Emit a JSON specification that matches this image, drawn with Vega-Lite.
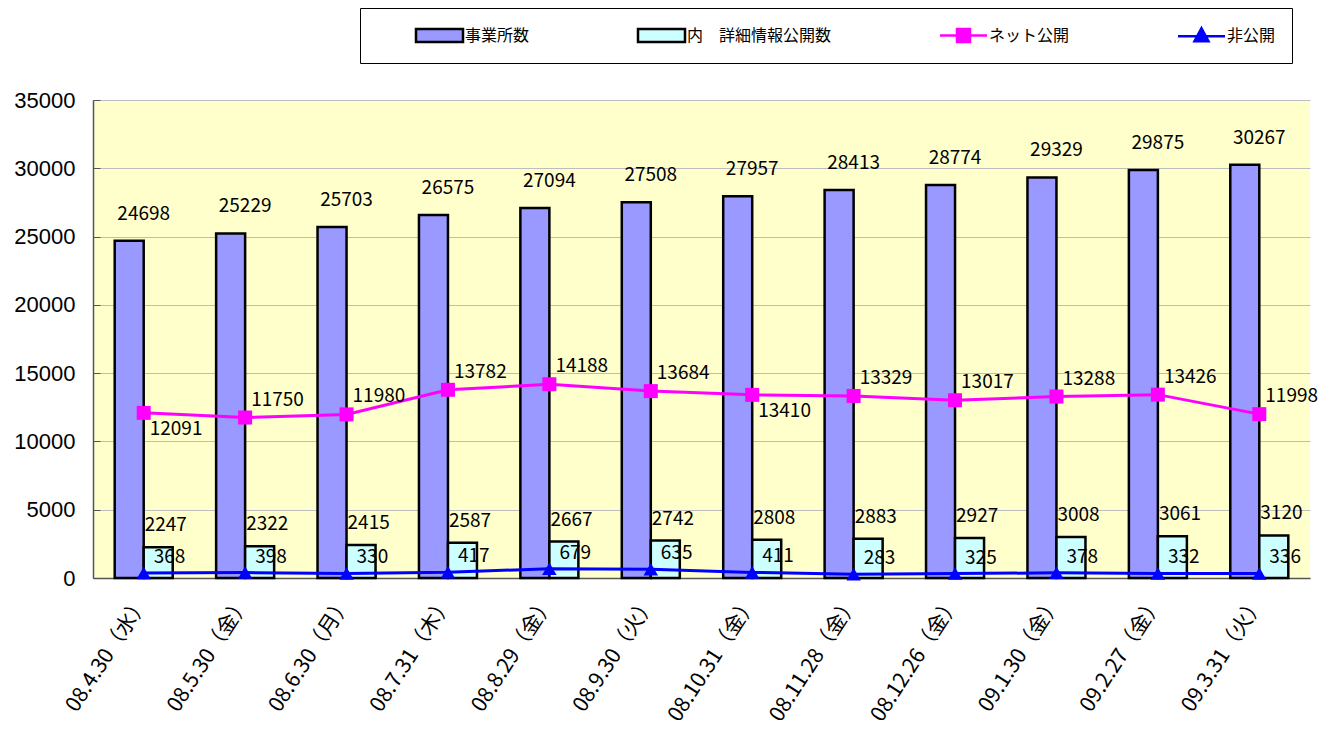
{
  "$schema": "https://vega.github.io/schema/vega-lite/v6.json",
  "width": 1217,
  "height": 478,
  "autosize": "none",
  "padding": {"left": 93, "top": 100, "right": 20, "bottom": 153},
  "background": "white",
  "config": {
    "view": {"stroke": null, "fill": "#FFFFCC"},
    "font": "Noto Sans CJK JP",
    "legend": {
      "title": null, "orient": "none", "legendX": 267, "legendY": -92,
      "direction": "horizontal", "columns": 4, "columnPadding": 68, "padding": 16,
      "strokeColor": "black", "fillColor": "white", "symbolSize": 400,
      "symbolStrokeWidth": 2.5, "symbolOffset": 52, "labelFontSize": 16, "labelOffset": 14,
      "labelFont": "Noto Sans CJK JP", "labelColor": "black"
    }
  },
  "data": {"values": [
    {"date": "08.4.30（水）", "series": "事業所数", "value": 24698},
    {"date": "08.5.30（金）", "series": "事業所数", "value": 25229},
    {"date": "08.6.30（月）", "series": "事業所数", "value": 25703},
    {"date": "08.7.31（木）", "series": "事業所数", "value": 26575},
    {"date": "08.8.29（金）", "series": "事業所数", "value": 27094},
    {"date": "08.9.30（火）", "series": "事業所数", "value": 27508},
    {"date": "08.10.31（金）", "series": "事業所数", "value": 27957},
    {"date": "08.11.28（金）", "series": "事業所数", "value": 28413},
    {"date": "08.12.26（金）", "series": "事業所数", "value": 28774},
    {"date": "09.1.30（金）", "series": "事業所数", "value": 29329},
    {"date": "09.2.27（金）", "series": "事業所数", "value": 29875},
    {"date": "09.3.31（火）", "series": "事業所数", "value": 30267},
    {"date": "08.4.30（水）", "series": "内　詳細情報公開数", "value": 2247},
    {"date": "08.5.30（金）", "series": "内　詳細情報公開数", "value": 2322},
    {"date": "08.6.30（月）", "series": "内　詳細情報公開数", "value": 2415},
    {"date": "08.7.31（木）", "series": "内　詳細情報公開数", "value": 2587},
    {"date": "08.8.29（金）", "series": "内　詳細情報公開数", "value": 2667},
    {"date": "08.9.30（火）", "series": "内　詳細情報公開数", "value": 2742},
    {"date": "08.10.31（金）", "series": "内　詳細情報公開数", "value": 2808},
    {"date": "08.11.28（金）", "series": "内　詳細情報公開数", "value": 2883},
    {"date": "08.12.26（金）", "series": "内　詳細情報公開数", "value": 2927},
    {"date": "09.1.30（金）", "series": "内　詳細情報公開数", "value": 3008},
    {"date": "09.2.27（金）", "series": "内　詳細情報公開数", "value": 3061},
    {"date": "09.3.31（火）", "series": "内　詳細情報公開数", "value": 3120},
    {"date": "08.4.30（水）", "series": "ネット公開", "value": 12091},
    {"date": "08.5.30（金）", "series": "ネット公開", "value": 11750},
    {"date": "08.6.30（月）", "series": "ネット公開", "value": 11980},
    {"date": "08.7.31（木）", "series": "ネット公開", "value": 13782},
    {"date": "08.8.29（金）", "series": "ネット公開", "value": 14188},
    {"date": "08.9.30（火）", "series": "ネット公開", "value": 13684},
    {"date": "08.10.31（金）", "series": "ネット公開", "value": 13410},
    {"date": "08.11.28（金）", "series": "ネット公開", "value": 13329},
    {"date": "08.12.26（金）", "series": "ネット公開", "value": 13017},
    {"date": "09.1.30（金）", "series": "ネット公開", "value": 13288},
    {"date": "09.2.27（金）", "series": "ネット公開", "value": 13426},
    {"date": "09.3.31（火）", "series": "ネット公開", "value": 11998},
    {"date": "08.4.30（水）", "series": "非公開", "value": 368},
    {"date": "08.5.30（金）", "series": "非公開", "value": 398},
    {"date": "08.6.30（月）", "series": "非公開", "value": 330},
    {"date": "08.7.31（木）", "series": "非公開", "value": 417},
    {"date": "08.8.29（金）", "series": "非公開", "value": 679},
    {"date": "08.9.30（火）", "series": "非公開", "value": 635},
    {"date": "08.10.31（金）", "series": "非公開", "value": 411},
    {"date": "08.11.28（金）", "series": "非公開", "value": 283},
    {"date": "08.12.26（金）", "series": "非公開", "value": 325},
    {"date": "09.1.30（金）", "series": "非公開", "value": 378},
    {"date": "09.2.27（金）", "series": "非公開", "value": 332},
    {"date": "09.3.31（火）", "series": "非公開", "value": 336}
  ]},
  "encoding": {
    "x": {
      "field": "date", "type": "nominal",
      "scale": {
        "domain": ["08.4.30（水）", "08.5.30（金）", "08.6.30（月）", "08.7.31（木）", "08.8.29（金）", "08.9.30（火）", "08.10.31（金）", "08.11.28（金）", "08.12.26（金）", "09.1.30（金）", "09.2.27（金）", "09.3.31（火）"],
        "paddingInner": 0.428, "paddingOuter": 0.214
      },
      "axis": {
        "title": null, "labelAngle": -57, "labelFontSize": 21, "labelColor": "black",
        "labelFont": "Noto Sans CJK JP", "ticks": true, "tickBand": "extent", "tickSize": -7,
        "tickColor": "#555555", "tickWidth": 1, "labelPadding": 27,
        "domainColor": "#555555", "domainWidth": 1.5, "grid": false, "labelLimit": 0
      }
    },
    "y": {
      "field": "value", "type": "quantitative",
      "scale": {"domain": [0, 35000], "nice": false},
      "axis": {
        "title": null, "values": [0, 5000, 10000, 15000, 20000, 25000, 30000, 35000],
        "format": "d", "labelFont": "Liberation Sans", "labelFontSize": 22, "labelColor": "black",
        "ticks": true, "tickSize": -7, "tickColor": "#555555", "tickWidth": 1,
        "labelPadding": 25, "domainColor": "#555555", "domainWidth": 1.5,
        "gridColor": "#BDBDBD", "gridWidth": 1
      }
    }
  },
  "layer": [
    {
      "transform": [{"filter": "indexof(['事業所数','内　詳細情報公開数'], datum.series) >= 0"}],
      "mark": {"type": "bar", "strokeWidth": 2.5, "opacity": 1},
      "encoding": {
        "xOffset": {"field": "series", "type": "nominal", "scale": {"domain": ["事業所数", "内　詳細情報公開数"]}},
        "fill": {
          "field": "series", "type": "nominal",
          "scale": {"domain": ["事業所数", "内　詳細情報公開数", "ネット公開", "非公開"], "range": ["#9999FF", "#CCFFFF", "#FF00FF", "#0000FF"]}
        },
        "stroke": {
          "field": "series", "type": "nominal",
          "scale": {"domain": ["事業所数", "内　詳細情報公開数", "ネット公開", "非公開"], "range": ["black", "black", "#FF00FF", "#0000FF"]}
        }
      }
    },
    {
      "transform": [{"filter": "indexof(['ネット公開','非公開'], datum.series) >= 0"}],
      "mark": {"type": "line", "strokeWidth": 3, "opacity": 1},
      "encoding": {
        "stroke": {"field": "series", "type": "nominal"}
      }
    },
    {
      "transform": [{"filter": "datum.series === 'ネット公開'"}],
      "mark": {"type": "point", "shape": "square", "size": 196, "filled": true, "color": "#FF00FF", "opacity": 1},
      "encoding": {}
    },
    {
      "transform": [{"filter": "datum.series === '非公開'"}],
      "mark": {"type": "point", "shape": "triangle-up", "size": 210, "filled": true, "color": "#0000FF", "opacity": 1},
      "encoding": {}
    },
    {
      "transform": [{"filter": "datum.value < 0"}],
      "mark": {"type": "point", "filled": true, "opacity": 1},
      "encoding": {
        "shape": {
          "field": "series", "type": "nominal",
          "scale": {"domain": ["事業所数", "内　詳細情報公開数", "ネット公開", "非公開"], "range": ["M-2.35,-0.65H2.35V0.65H-2.35Z", "M-2.35,-0.65H2.35V0.65H-2.35Z", "M-2.35,0H2.35M-0.65,-0.65H0.65V0.65H-0.65Z", "M-2.35,0H2.35M0,-0.8L0.7,0.5H-0.7Z"]}
        }
      }
    },
    {
      "transform": [{"filter": "datum.series === '事業所数'"}],
      "mark": {"type": "text", "align": "center", "baseline": "middle", "dy": -27, "fontSize": 19, "color": "black"},
      "encoding": {"text": {"field": "value", "type": "quantitative", "format": "d"}}
    },
    {
      "transform": [{"filter": "datum.series === '内　詳細情報公開数'"}],
      "mark": {"type": "text", "align": "left", "baseline": "middle", "dx": 1, "dy": -22, "fontSize": 19, "color": "black"},
      "encoding": {"text": {"field": "value", "type": "quantitative", "format": "d"}}
    },
    {
      "transform": [{"filter": "datum.series === 'ネット公開' && datum.date !== '08.4.30（水）' && datum.date !== '08.10.31（金）'"}],
      "mark": {"type": "text", "align": "left", "baseline": "middle", "dx": 6, "dy": -18, "fontSize": 19, "color": "black"},
      "encoding": {"text": {"field": "value", "type": "quantitative", "format": "d"}}
    },
    {
      "transform": [{"filter": "datum.series === 'ネット公開' && (datum.date === '08.4.30（水）' || datum.date === '08.10.31（金）')"}],
      "mark": {"type": "text", "align": "left", "baseline": "middle", "dx": 6, "dy": 16, "fontSize": 19, "color": "black"},
      "encoding": {"text": {"field": "value", "type": "quantitative", "format": "d"}}
    },
    {
      "transform": [{"filter": "datum.series === '非公開'"}],
      "mark": {"type": "text", "align": "left", "baseline": "middle", "dx": 10, "dy": -16, "fontSize": 19, "color": "black"},
      "encoding": {"text": {"field": "value", "type": "quantitative", "format": "d"}}
    }
  ]
}
